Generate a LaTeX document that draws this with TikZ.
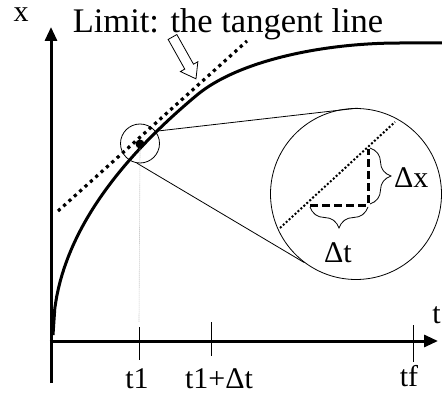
\documentclass[tikz,border=0pt]{standalone}
\usepackage{fontspec}
\setmainfont{Liberation Serif}
\usetikzlibrary{arrows.meta,decorations.pathreplacing}

\begin{document}
\begin{tikzpicture}[x=1pt, y=-1pt,
   axis/.style={line width=3pt, -{Triangle[length=14pt,width=12pt]}},
   fine/.style={line width=0.8pt},
   tickmark/.style={line width=0.8pt},
   lbl/.style={font=\fontsize{30}{32}\selectfont, inner sep=0pt},
   axlbl/.style={font=\fontsize{30}{32}\selectfont, inner sep=0pt},
   bigdots/.style={line width=3.2pt, dash pattern=on 3.2pt off 4pt},
   smalldots/.style={line width=2pt, dash pattern=on 2pt off 2pt},
   legs/.style={line width=3pt, dash pattern=on 8pt off 4pt},
   curly/.style={fine, decorate, decoration={brace, amplitude=21pt}},
   guide/.style={gray!60, line width=0.6pt, dash pattern=on 1pt off 1pt}]
  \useasboundingbox (0,0) rectangle (442,393);

  % axes
  \coordinate (ybot) at (51,383);
  \coordinate (ytop) at (51,27);
  \coordinate (xleft) at (49.5,341);
  \coordinate (xright) at (438,341);
  \draw[axis] (ybot) -- (ytop);
  \draw[axis] (xleft) -- (xright);
  \node[axlbl, anchor=base] (xlab) at (21,22) {x};
  \node[axlbl, anchor=base east] (tlab) at (441,323) {t};

  % the curve x(t)
  \draw[line width=3pt] plot[domain=0:144, samples=80] ({53+\x}, {335-20*sqrt(\x)})
    .. controls (237,61.7) and (320,43) .. (400,43) -- (442,43);

  % tangent line
  \coordinate (tanlo) at (58,211);
  \coordinate (tanhi) at (247,41);
  \draw[bigdots] (tanlo) -- (tanhi);
  \node[anchor=base, inner sep=0pt, font=\fontsize{34.5}{38}\selectfont] (title)
    at (228,33) {Limit: the tangent line};
  \begin{scope}[shift={(172.5,37)}, rotate=-60.7]
    \draw[fine, fill=white] (0,5) -- (34,5) -- (34,10) -- (48,0) -- (34,-10)
      -- (34,-5) -- (0,-5) -- cycle;
  \end{scope}

  % point and zoom circles
  \node[circle, fill, inner sep=0pt, minimum size=9pt] (p) at (140,144) {};
  \node[circle, draw, fine, inner sep=0pt, minimum size=39pt] (near) at (140,143.5) {};
  \node[circle, draw, fine, inner sep=0pt, minimum size=171pt] (lens) at (356,194) {};
  \draw[fine] (near.38) -- (lens.89);
  \draw[fine] (near.261) -- (lens.233);
  \coordinate (t1top) at (139,322);
  \draw[guide] (p.south) -- (t1top);

  % inside the lens
  \coordinate (a) at (310,205);
  \coordinate (b) at (368,205);
  \coordinate (c) at (368,149);
  \coordinate (seclo) at (280,228);
  \coordinate (sechi) at (395,122);
  \draw[smalldots] (seclo) -- (sechi);
  \draw[legs] (a) -- (b) -- (c);
  \draw[curly] (370,148) -- (370,204);
  \draw[curly] (368,207) -- (310,207);
  \node[lbl, anchor=base west] (dx) at (394,188) {Δx};
  \node[lbl, anchor=base] (dt) at (338,262) {Δt};

  % ticks on the t axis
  \draw[tickmark] (139,327) -- (139,360);
  \draw[tickmark] (211,322) -- (211,356);
  \draw[tickmark] (413,325) -- (413,362);
  \node[lbl, anchor=base] (t1) at (137,388) {t1};
  \node[lbl, anchor=base] (t1dt) at (219,388) {t1+Δt};
  \node[lbl, anchor=base] (tf) at (409,386) {tf};
\end{tikzpicture}
\end{document}
